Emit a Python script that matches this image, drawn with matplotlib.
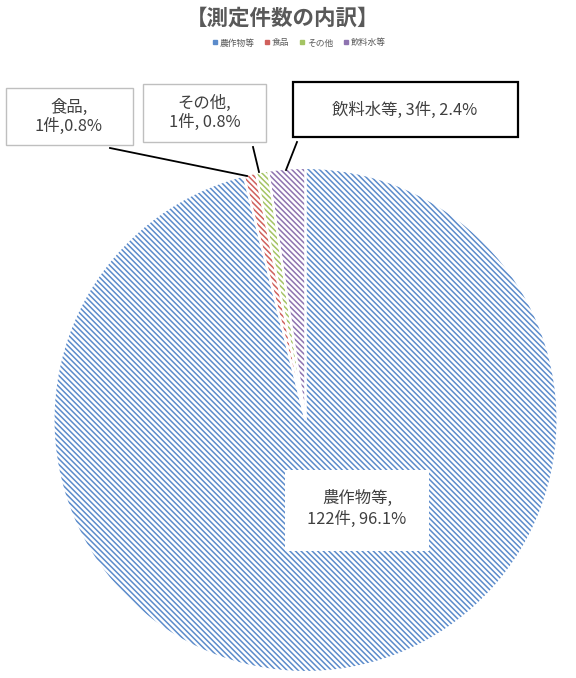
import matplotlib
matplotlib.use("Agg")
import matplotlib.pyplot as plt
from matplotlib.patches import Rectangle
from matplotlib.lines import Line2D

plt.rcParams['font.family'] = ['Noto Sans CJK JP', 'DejaVu Sans']
plt.rcParams['hatch.linewidth'] = 1.1

# data
categories = ["農作物等", "食品", "その他", "飲料水等"]
counts = [122, 1, 1, 3]
colors = ["#5B8BCB", "#D0605C", "#A4C463", "#8E73B0"]
title = "【測定件数の内訳】"

W, H = 576, 678
fig = plt.figure(figsize=(W / 100, H / 100), dpi=100)
ax = fig.add_axes([0, 0, 1, 1])


def Y(y):
    # image pixel row -> axes y
    return H - y


cx, cy, r = 305.5, Y(420), 252
wedges, _ = ax.pie(counts, colors=["white"] * 4, startangle=90,
                   counterclock=False, center=(cx, cy), radius=r,
                   frame=True)
for w, c in zip(wedges, colors):
    w.set_hatch("\\" * 6)
    w.set_edgecolor(c)
    w.set_linewidth(0)
# white separators on top
ax.pie(counts, colors=["none"] * 4, startangle=90,
       counterclock=False, center=(cx, cy), radius=r, frame=True,
       wedgeprops=dict(edgecolor="white", linewidth=1.5, fill=False))
ax.set_xlim(0, W)
ax.set_ylim(0, H)
ax.set_aspect("equal")
ax.set_axis_off()

total = sum(counts)
pct = [100 * v / total for v in counts]
txt_color = "#404040"
fs = 11.8


def box(x0, y0, x1, y1, ec, lw):
    ax.add_patch(Rectangle((x0, Y(y1)), x1 - x0, y1 - y0, facecolor="white",
                           edgecolor=ec, linewidth=lw, zorder=5))


# 農作物等 (no border)
box(285, 470, 429, 551, "none", 0)
ax.text(357, Y(509), f"{categories[0]},\n{counts[0]}件, {pct[0]:.1f}%",
        ha="center", va="center", fontsize=fs, color=txt_color,
        linespacing=1.25, zorder=6)

# 食品
box(6, 88, 133, 145, "#BFBFBF", 1.0)
ax.text(69, Y(117), f"{categories[1]},\n{counts[1]}件,{pct[1]:.1f}%",
        ha="center", va="center", fontsize=fs, color=txt_color,
        linespacing=1.15, zorder=6)

# その他
box(143, 84, 266, 142, "#BFBFBF", 1.0)
ax.text(204.5, Y(113), f"{categories[2]},\n{counts[2]}件, {pct[2]:.1f}%",
        ha="center", va="center", fontsize=fs, color=txt_color,
        linespacing=1.15, zorder=6)

# 飲料水等
box(293, 82, 518, 137, "black", 1.6)
ax.text(405, Y(110), f"{categories[3]}, {counts[3]}件, {pct[3]:.1f}%",
        ha="center", va="center", fontsize=fs, color=txt_color, zorder=6)

# leader lines
ax.plot([110, 247], [Y(148), Y(176)], color="black", lw=1.3, zorder=4)
ax.plot([253, 259], [Y(147), Y(172)], color="black", lw=1.3, zorder=4)
ax.plot([297, 286], [Y(142), Y(170)], color="black", lw=1.3, zorder=4)

# title
ax.text(283, Y(18), title, ha="center", va="center", fontsize=15.5,
        fontweight="bold", color="#595959")

# legend
handles = [Line2D([], [], ls="none", marker="s", markersize=2.5,
                  markerfacecolor=c, markeredgecolor=c) for c in colors]
fig.legend(handles, categories, loc="center",
           bbox_to_anchor=(299 / W, 1 - 43 / H),
           ncol=4, frameon=False, fontsize=6.3, handlelength=0.5,
           handletextpad=0.3, columnspacing=1.2, labelcolor="#595959")

fig.savefig("out.png", dpi=100)
